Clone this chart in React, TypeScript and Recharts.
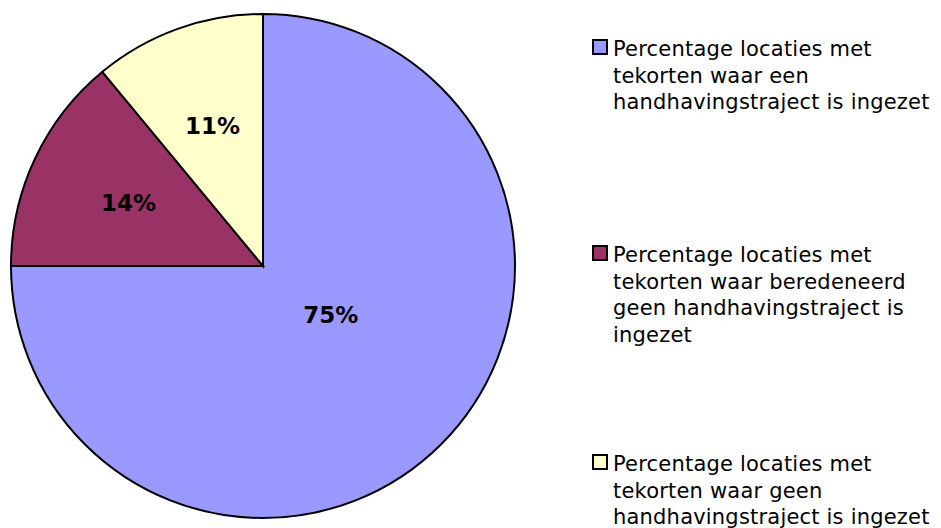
import { PieChart, Pie, Cell, Legend } from 'recharts';

const categories = [
  'Percentage locaties met\ntekorten waar een\nhandhavingstraject is ingezet',
  'Percentage locaties met\ntekorten waar beredeneerd\ngeen handhavingstraject is\ningezet',
  'Percentage locaties met\ntekorten waar geen\nhandhavingstraject is ingezet',
];
const values = [75, 14, 11];
const colors = ['#9999FF', '#993366', '#FFFFCC'];

const legendTops = [36, 242, 451];
const FONT = "'DejaVu Sans', Verdana, sans-serif";

const data = categories.map((name, i) => ({ name, value: values[i] }));

const RAD = Math.PI / 180;

// Excel puts the big slice's label a bit off its mid-angle
function renderLabel(props: any) {
  const { cx, cy, midAngle, outerRadius, percent, value } = props;
  const big = percent > 0.5;
  const r = big ? outerRadius * 0.333 : outerRadius * 0.59;
  const a = big ? midAngle + 9 : midAngle;
  const x = cx + r * Math.cos(-a * RAD);
  const y = cy + r * Math.sin(-a * RAD);
  return (
    <text
      x={x}
      y={y}
      textAnchor="middle"
      dominantBaseline="central"
      fontFamily={FONT}
      fontWeight="bold"
      fontSize={23}
      fill="#000"
    >
      {value}%
    </text>
  );
}

function LegendContent() {
  return (
    <div style={{ position: 'relative', width: 349, height: 528 }}>
      {categories.map((name, i) => (
        <div
          key={i}
          style={{
            position: 'absolute',
            top: legendTops[i],
            left: 0,
            display: 'flex',
            alignItems: 'flex-start',
          }}
        >
          <div
            style={{
              width: 12,
              height: 12,
              marginTop: 3,
              marginRight: 5,
              border: '2px solid #000',
              background: colors[i],
              flexShrink: 0,
            }}
          />
          <div
            style={{
              fontFamily: FONT,
              fontSize: 21,
              letterSpacing: 0.2,
              lineHeight: '26.5px',
              color: '#000',
              whiteSpace: 'pre',
            }}
          >
            {name}
          </div>
        </div>
      ))}
    </div>
  );
}

export default function App() {
  return (
    <div style={{ position: 'absolute', left: 0, top: 0, width: 941, height: 528, background: '#fff', overflow: 'hidden' }}>
      <PieChart width={941} height={528} margin={{ top: 0, right: 0, bottom: 0, left: 0 }}>
        <Pie
          data={data}
          dataKey="value"
          nameKey="name"
          cx={263}
          cy={266}
          outerRadius={252}
          startAngle={90}
          endAngle={-270}
          stroke="#000"
          strokeWidth={2}
          label={renderLabel}
          labelLine={false}
          isAnimationActive={false}
        >
          {data.map((d, i) => (
            <Cell key={d.name} fill={colors[i]} />
          ))}
        </Pie>
        <Legend
          content={<LegendContent />}
          wrapperStyle={{ position: 'absolute', left: 592, top: 0, width: 349, height: 528 }}
        />
      </PieChart>
    </div>
  );
}
